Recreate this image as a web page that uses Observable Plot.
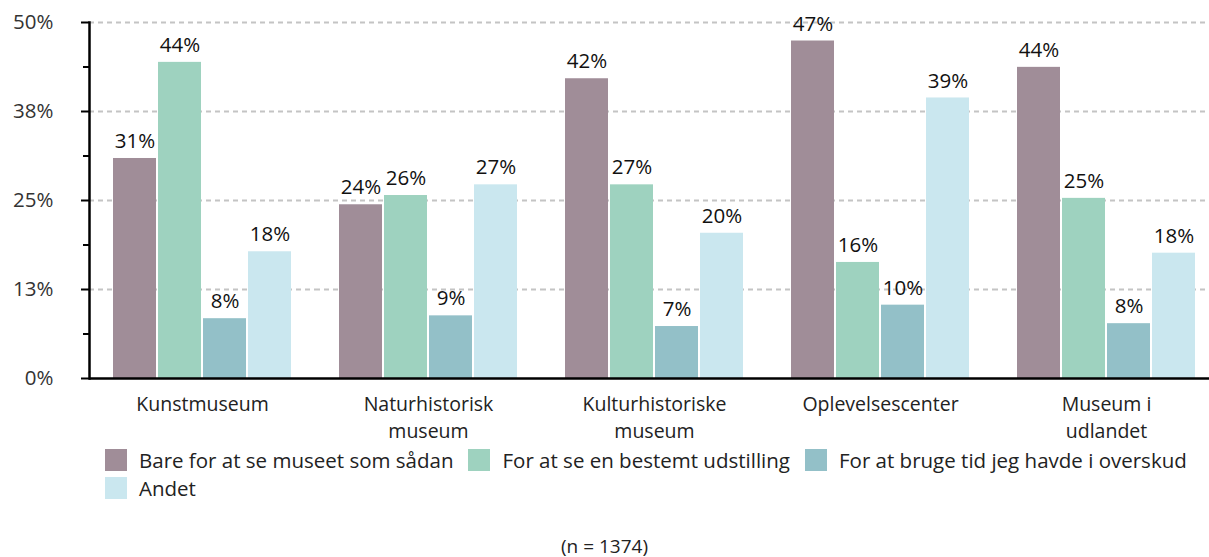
<!DOCTYPE html>
<html>
<head>
<meta charset="utf-8">
<script src="https://cdn.jsdelivr.net/npm/d3@7"></script>
<script src="https://cdn.jsdelivr.net/npm/@observablehq/plot@0.6"></script>
<style>
  html, body { margin: 0; padding: 0; background: #fff; overflow: hidden; }
  body { width: 1209px; height: 557px; font-family: "Open Sans", sans-serif; color: #222; }
  #legend { position: absolute; left: 105px; top: 448px; width: 1104px; display: flex; flex-wrap: wrap; column-gap: 15px; row-gap: 4px; font-size: 20.5px; line-height: 24px; color: #222; }
  .item { display: flex; align-items: center; white-space: nowrap; }
  .sw { width: 22px; height: 22px; margin-right: 12px; flex: none; }
  #caption { position: absolute; left: 0; top: 535px; width: 1209px; text-align: center; font-size: 19px; line-height: 22px; color: #222; }
  #chart { position: absolute; left: 0; top: 0; }
</style>
</head>
<body>
<div id="chart"></div>
<div id="legend"></div>
<div id="caption">(n = 1374)</div>
<script>
const categories = ["Kunstmuseum", "Naturhistorisk museum", "Kulturhistoriske museum", "Oplevelsescenter", "Museum i udlandet"];
const categoryLabels = ["Kunstmuseum", "Naturhistorisk\nmuseum", "Kulturhistoriske\nmuseum", "Oplevelsescenter", "Museum i\nudlandet"];
const series = ["Bare for at se museet som sådan", "For at se en bestemt udstilling", "For at bruge tid jeg havde i overskud", "Andet"];
const colors = ["#a08d98", "#9ed2bf", "#93c0c8", "#cae7ef"];
const valuesBare = [30.9, 24.4, 42.1, 47.4, 43.7];
const valuesUdstilling = [44.4, 25.7, 27.2, 16.3, 25.3];
const valuesTid = [8.4, 8.8, 7.3, 10.3, 7.7];
const valuesAndet = [17.8, 27.2, 20.4, 39.4, 17.6];
const yTicks = [0, 12.5, 25, 37.5, 50];
const yMinorTicks = [6.25, 18.75, 31.25, 43.75];

const seriesValues = [valuesBare, valuesUdstilling, valuesTid, valuesAndet];
const data = [];
categories.forEach((c, i) => series.forEach((s, j) => data.push({category: c, series: s, value: seriesValues[j][i]})));
const labelOf = new Map(categories.map((c, i) => [c, categoryLabels[i]]));

const font = "'Open Sans', sans-serif";
const chart = Plot.plot({
  width: 1232,
  height: 445,
  marginLeft: 88,
  marginRight: 12,
  marginTop: 22,
  marginBottom: 67,
  style: {fontFamily: font, fontSize: "20px", color: "#222", background: "white", maxWidth: "none", overflow: "visible"},
  fx: {domain: categories, paddingInner: 0, paddingOuter: 0, label: null},
  x: {domain: series, paddingInner: 0.05, paddingOuter: 0.525, axis: null},
  y: {domain: [0, 50], label: null, axis: null},
  color: {domain: series, range: colors},
  marks: [
    Plot.ruleY(yTicks.slice(1), {stroke: "#c4c4c4", strokeWidth: 2, strokeDasharray: "5,4"}),
    Plot.barY(data, {fx: "category", x: "series", y: "value", fill: "series"}),
    Plot.text(data, {fx: "category", x: "series", y: "value", text: d => Math.round(d.value) + "%", dy: -17, fontSize: 20.5, fill: "#111"}),
    Plot.ruleY([0], {stroke: "#000", strokeWidth: 2.5}),
    Plot.frame({anchor: "left", facetAnchor: "left", stroke: "#000", strokeWidth: 2.5}),
    Plot.axisY({ticks: yTicks, tickFormat: d => Math.round(d) + "%", tickSize: 8, tickPadding: 28, stroke: "#000", strokeWidth: 2, fontSize: 20.5, fill: "#333", label: null}),
    Plot.axisY({ticks: yMinorTicks, tickSize: 6, text: null, stroke: "#000", strokeWidth: 2, label: null}),
    Plot.axisFx({anchor: "bottom", tickSize: 0, tickPadding: 13, fontSize: 19.5, fill: "#222", lineHeight: 1.38, label: null, tickFormat: c => labelOf.get(c)})
  ]
});
document.getElementById("chart").appendChild(chart);

const legend = document.getElementById("legend");
series.forEach((s, i) => {
  const item = document.createElement("div");
  item.className = "item";
  const sw = document.createElement("span");
  sw.className = "sw";
  sw.style.background = colors[i];
  const t = document.createElement("span");
  t.textContent = s;
  item.appendChild(sw);
  item.appendChild(t);
  legend.appendChild(item);
});
</script>
</body>
</html>
